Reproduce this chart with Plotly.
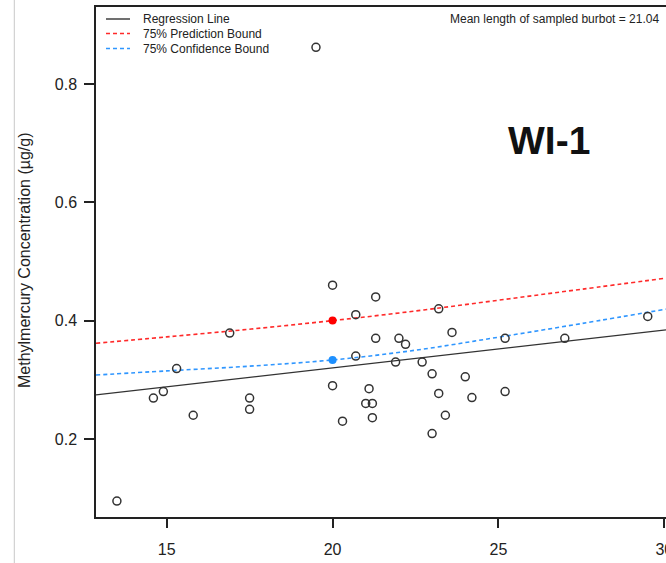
import plotly.graph_objects as go

# ---- data ----
length_cm = [19.5, 13.5, 16.9, 15.3, 14.9, 14.6, 15.8, 17.5, 17.5, 20.0,
             21.3, 20.7, 23.2, 23.6, 21.3, 22.0, 22.2, 20.7, 21.9, 22.7,
             23.0, 24.0, 20.0, 21.1, 21.0, 21.2, 23.2, 24.2, 21.2, 23.4,
             20.3, 23.0, 27.0, 25.2, 25.2, 29.5]
mehg = [0.862, 0.095, 0.379, 0.319, 0.280, 0.269, 0.240, 0.269, 0.250, 0.460,
        0.440, 0.410, 0.420, 0.380, 0.370, 0.370, 0.360, 0.340, 0.330, 0.330,
        0.310, 0.305, 0.290, 0.285, 0.260, 0.260, 0.277, 0.270, 0.236, 0.240,
        0.230, 0.209, 0.370, 0.370, 0.280, 0.407]

reg_x = [12.87, 30.05]
reg_y = [0.2744, 0.3843]

bound_x = [12.87, 15, 17.5, 20, 22.5, 25, 27.5, 30.05]
pred_upper = [0.3617, 0.3725, 0.3855, 0.400, 0.4163, 0.4345, 0.453, 0.4718]
conf_upper = [0.308, 0.315, 0.323, 0.3335, 0.350, 0.372, 0.395, 0.4195]

ref_x = [20.0]
ref_pred = [0.400]
ref_conf = [0.3335]

x_ticks = [15, 20, 25, 30]
y_ticks = [0.2, 0.4, 0.6, 0.8]

legend_labels = ["Regression Line", "75% Prediction Bound", "75% Confidence Bound"]
mean_note = "Mean length of sampled burbot = 21.04"
site_label = "WI-1"
y_title = "Methylmercury Concentration (µg/g)"

# ---- styling ----
W, H = 666, 563
ML, MT, MB, MR = 96, 7, 46, 0
PW, PH = W - ML - MR, H - MT - MB
FONT = "Liberation Sans, Arial, sans-serif"
RED = "#FF2A2A"
BLUE = "#2F96FF"
DARK = "#333333"


def px(xp):
    return (xp - ML) / PW


def py(yp):
    return (H - MB - yp) / PH


fig = go.Figure()

fig.add_trace(go.Scatter(x=reg_x, y=reg_y, mode="lines",
                         line=dict(color=DARK, width=1.3), hoverinfo="skip"))
fig.add_trace(go.Scatter(x=bound_x, y=pred_upper, mode="lines",
                         line=dict(color=RED, width=1.6, dash="4px,3px", shape="spline"),
                         hoverinfo="skip"))
fig.add_trace(go.Scatter(x=bound_x, y=conf_upper, mode="lines",
                         line=dict(color=BLUE, width=1.6, dash="4px,3px", shape="spline"),
                         hoverinfo="skip"))
fig.add_trace(go.Scatter(x=length_cm, y=mehg, mode="markers",
                         marker=dict(symbol="circle-open", size=8, color=DARK,
                                     line=dict(width=1.5, color=DARK)),
                         cliponaxis=False))
fig.add_trace(go.Scatter(x=ref_x, y=ref_pred, mode="markers",
                         marker=dict(symbol="circle", size=8, color="#FF0000",
                                     line=dict(width=0))))
fig.add_trace(go.Scatter(x=ref_x, y=ref_conf, mode="markers",
                         marker=dict(symbol="circle", size=8, color="#1E90FF",
                                     line=dict(width=0))))

shapes = []
# page border line at far left
shapes.append(dict(type="line", xref="paper", yref="paper", x0=px(14.3), x1=px(14.3),
                   y0=py(H), y1=py(0), line=dict(color="#c8c8c8", width=1)))
# legend samples
leg_y = [19, 33.5, 48.5]
leg_styles = [dict(color="#222", width=1.3),
              dict(color=RED, width=1.6, dash="4px,3px"),
              dict(color=BLUE, width=1.6, dash="4px,3px")]
for yy, st in zip(leg_y, leg_styles):
    shapes.append(dict(type="line", xref="paper", yref="paper", x0=px(106), x1=px(130),
                       y0=py(yy), y1=py(yy), line=st))

annotations = []
for yy, lab in zip(leg_y, legend_labels):
    annotations.append(dict(x=px(141), y=py(yy), xref="paper", yref="paper", text=lab,
                            showarrow=False, xanchor="left", yanchor="middle",
                            font=dict(family=FONT, size=12, color="#222")))
annotations.append(dict(x=px(661), y=py(19), xref="paper", yref="paper", text=mean_note,
                        showarrow=False, xanchor="right", yanchor="middle",
                        font=dict(family=FONT, size=12, color="#222")))
annotations.append(dict(x=px(548.7), y=py(141), xref="paper", yref="paper",
                        text="<b>" + site_label + "</b>", showarrow=False,
                        xanchor="center", yanchor="middle",
                        font=dict(family=FONT, size=39, color="#111")))
annotations.append(dict(x=px(24), y=py(260), xref="paper", yref="paper", text=y_title,
                        showarrow=False, textangle=-90, xanchor="center", yanchor="middle",
                        font=dict(family=FONT, size=16, color="#222")))

fig.update_layout(
    width=W, height=H,
    margin=dict(l=ML, r=MR, t=MT, b=MB, pad=0, autoexpand=False),
    paper_bgcolor="white", plot_bgcolor="white",
    showlegend=False,
    shapes=shapes, annotations=annotations,
    font=dict(family=FONT, color="#222"),
)
fig.update_xaxes(range=[12.87, 30.05], tickvals=x_ticks, ticktext=[str(v) for v in x_ticks],
                 automargin=False,
                 showgrid=False, zeroline=False, showline=True, mirror=True,
                 linecolor="#222", linewidth=1.5,
                 ticks="outside", ticklen=9, tickwidth=1.5, tickcolor="#222",
                 ticklabeloverflow="allow",
                 tickfont=dict(family=FONT, size=16, color="#222"), ticklabelstandoff=8)
fig.update_yaxes(range=[0.068, 0.068 + (517 - MT) / 591.5], tickvals=y_ticks,
                 ticktext=[f"{v:.1f}" for v in y_ticks], automargin=False,
                 showgrid=False, zeroline=False, showline=True, linecolor="#222", linewidth=1.5,
                 ticks="outside", ticklen=10, tickwidth=1.5, tickcolor="#222",
                 tickfont=dict(family=FONT, size=16, color="#222"), ticklabelstandoff=4)

fig.write_html("out.html", config={"displayModeBar": False},
               post_script="document.body.style.margin='0px';document.body.style.overflow='hidden';")
